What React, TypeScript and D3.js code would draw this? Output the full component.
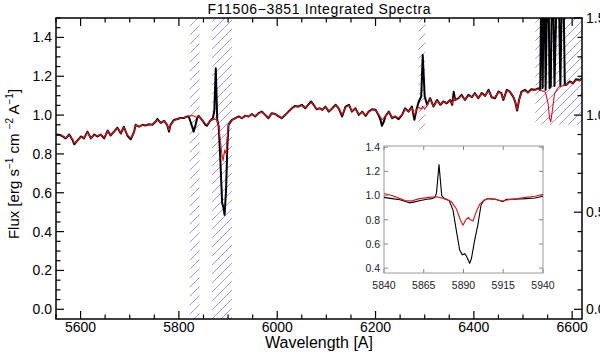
import React from 'react';
import * as d3 from 'd3';

// ---------- main spectrum ----------
const mainWave = [
  5550, 5560, 5570, 5577, 5584, 5587, 5594, 5601, 5607, 5614, 5621, 5628, 5634, 5641, 5648, 5655, 5661, 5668, 5675, 5682,
  5688, 5695, 5702, 5709, 5712, 5719, 5726, 5732, 5739, 5746, 5753, 5756, 5763, 5770, 5776, 5780, 5783, 5790, 5797, 5803,
  5810, 5817, 5820, 5823.5, 5827, 5830, 5834, 5837, 5840, 5847, 5854, 5857, 5864, 5869, 5872, 5875, 5878, 5881, 5884, 5888,
  5890, 5893, 5896, 5898.5, 5901, 5908, 5915, 5921.5, 5928, 5935, 5942, 5948.5, 5955, 5962, 5969, 5976, 5982, 5989, 5996, 6003,
  6009, 6016, 6023, 6030, 6036, 6043, 6050, 6057, 6063, 6069, 6074, 6080, 6087, 6092, 6098, 6105, 6112, 6119, 6125, 6132,
  6139, 6146, 6152, 6159, 6166, 6173, 6180, 6186, 6193, 6200, 6206, 6210, 6213, 6217, 6220, 6227, 6234, 6240, 6247, 6254,
  6260, 6267, 6274, 6279, 6284, 6288, 6293, 6296, 6300, 6305, 6311, 6318, 6325, 6332, 6338, 6345, 6352, 6356, 6359, 6362,
  6369, 6375, 6382, 6389, 6396, 6402, 6409, 6416, 6423, 6430, 6436, 6443, 6450, 6456, 6460, 6467, 6473, 6480, 6484, 6488,
  6492, 6497, 6504, 6510, 6517, 6524, 6531, 6535, 6538, 6540, 6543, 6546, 6551, 6554, 6556.5, 6560, 6564, 6571, 6576, 6581,
  6585, 6588, 6595, 6602, 6608, 6615, 6620,
];
const mainBlack = [
  0.900, 0.896, 0.880, 0.900, 0.870, 0.850, 0.870, 0.890, 0.880, 0.915, 0.880, 0.900, 0.890, 0.900, 0.880, 0.920, 0.895, 0.915, 0.935, 0.905,
  0.940, 0.895, 0.875, 0.915, 0.950, 0.940, 0.950, 0.946, 0.953, 0.950, 0.967, 0.980, 0.960, 0.970, 0.950, 0.915, 0.950, 0.975, 0.980, 0.985,
  0.985, 0.993, 0.993, 0.967, 0.941, 0.915, 0.950, 0.984, 0.996, 0.975, 0.950, 0.945, 0.972, 0.984, 1.020, 1.241, 0.975, 0.940, 0.787, 0.547,
  0.530, 0.487, 0.616, 0.838, 0.950, 0.975, 0.984, 0.993, 0.984, 0.996, 0.993, 1.006, 0.993, 1.010, 1.018, 1.000, 0.984, 1.010, 1.006, 0.993,
  0.984, 1.000, 1.018, 1.035, 1.047, 1.044, 1.053, 1.035, 1.053, 1.070, 1.053, 1.030, 1.035, 1.027, 1.044, 1.018, 1.035, 1.053, 1.035, 0.993,
  1.044, 1.053, 1.018, 1.035, 1.001, 1.018, 0.996, 1.018, 1.030, 1.027, 1.001, 0.976, 0.945, 0.967, 0.993, 1.018, 0.984, 0.993, 0.979, 1.001,
  1.035, 1.018, 1.044, 0.976, 1.035, 1.070, 1.096, 1.310, 1.096, 1.053, 1.087, 1.044, 1.078, 1.053, 1.070, 1.061, 1.078, 1.053, 1.120, 1.078,
  1.087, 1.104, 1.078, 1.104, 1.092, 1.113, 1.087, 1.113, 1.099, 1.130, 1.092, 1.087, 1.121, 1.113, 1.078, 1.130, 1.121, 1.095, 1.070, 1.023,
  1.078, 1.121, 1.130, 1.116, 1.133, 1.130, 1.138, 1.130, 1.900, 1.140, 1.900, 1.130, 1.900, 1.140, 1.150, 1.900, 1.150, 1.900, 1.150, 1.900,
  1.155, 1.155, 1.173, 1.164, 1.185, 1.178, 1.190,
];
const mainRed = [
  0.900, 0.898, 0.882, 0.898, 0.872, 0.855, 0.868, 0.888, 0.882, 0.912, 0.882, 0.898, 0.892, 0.900, 0.883, 0.918, 0.897, 0.913, 0.932, 0.907,
  0.938, 0.898, 0.882, 0.912, 0.948, 0.942, 0.948, 0.948, 0.950, 0.952, 0.965, 0.975, 0.962, 0.968, 0.952, 0.922, 0.948, 0.972, 0.980, 0.983,
  0.986, 0.992, 0.995, 0.996, 0.998, 0.995, 0.990, 0.990, 0.995, 0.975, 0.955, 0.950, 0.972, 0.978, 0.978, 0.978, 0.970, 0.940, 0.873, 0.787,
  0.765, 0.820, 0.800, 0.890, 0.950, 0.975, 0.982, 0.992, 0.985, 0.994, 0.993, 1.004, 0.995, 1.008, 1.016, 1.002, 0.986, 1.008, 1.005, 0.995,
  0.986, 1.000, 1.015, 1.033, 1.045, 1.042, 1.050, 1.037, 1.050, 1.066, 1.052, 1.032, 1.035, 1.028, 1.042, 1.020, 1.034, 1.050, 1.036, 1.000,
  1.040, 1.050, 1.020, 1.033, 1.004, 1.016, 1.000, 1.016, 1.028, 1.026, 1.005, 0.990, 0.975, 0.985, 0.995, 1.015, 0.988, 0.994, 0.985, 1.002,
  1.030, 1.018, 1.038, 1.000, 1.030, 1.040, 1.030, 1.045, 1.030, 1.050, 1.083, 1.046, 1.075, 1.055, 1.068, 1.062, 1.076, 1.058, 1.090, 1.078,
  1.086, 1.100, 1.080, 1.100, 1.093, 1.110, 1.089, 1.110, 1.100, 1.125, 1.094, 1.090, 1.118, 1.112, 1.082, 1.126, 1.120, 1.097, 1.073, 1.028,
  1.076, 1.118, 1.127, 1.117, 1.130, 1.128, 1.135, 1.130, 1.128, 1.122, 1.125, 1.115, 1.060, 0.985, 0.965, 1.030, 1.110, 1.140, 1.150, 1.150,
  1.155, 1.155, 1.170, 1.165, 1.180, 1.178, 1.188,
];

// ---------- inset (Na D / He I zoom) ----------
const insetWaveBlack = [
  5840, 5845, 5850, 5856, 5860, 5863, 5867, 5870, 5872, 5873, 5874.6, 5876.3, 5878, 5881, 5883.4, 5885.5, 5887.6, 5889.3,
  5890.8, 5891.8, 5893.9, 5895, 5897, 5899, 5901, 5902.7, 5905.4, 5910, 5912.7, 5914.8, 5917, 5922, 5929.5, 5935, 5940,
];
const insetBlack = [
  0.985, 0.975, 0.965, 0.940, 0.950, 0.960, 0.970, 0.975, 0.985, 1.020, 1.256, 1.000, 0.975, 0.960, 0.880, 0.710, 0.550, 0.510,
  0.520, 0.500, 0.440, 0.480, 0.630, 0.755, 0.920, 0.960, 0.975, 0.970, 0.960, 0.950, 0.970, 0.970, 0.975, 0.980, 0.995,
];
const insetWaveRed = [
  5840, 5845, 5850, 5854, 5857, 5862.5, 5868, 5873, 5878, 5882.4, 5885.5, 5888, 5889.7, 5891.4, 5893, 5894.3, 5896, 5898,
  5900.2, 5902.7, 5905.4, 5910, 5912.7, 5914.8, 5920, 5929.5, 5935, 5940,
];
const insetRed = [
  1.017, 1.000, 0.975, 0.956, 0.956, 0.975, 0.985, 0.990, 0.975, 0.950, 0.890, 0.800, 0.755, 0.800, 0.820, 0.800, 0.790, 0.865,
  0.930, 0.960, 0.975, 0.970, 0.960, 0.955, 0.970, 0.985, 0.995, 1.010,
];

// ---------- masked (hatched) wavelength bands ----------
const bandStart = [5822, 5867.5, 6287.5, 6525];
const bandEnd = [5842, 5908, 6301.5, 6620];
const bandLow = [-0.05, -0.05, 0.91, 0.95];
const bandHigh = [1.5, 1.5, 1.5, 1.5];

// ---------- ticks ----------
const xTickLabels = [5600, 5800, 6000, 6200, 6400, 6600];
const yLeftTickLabels = [0.0, 0.2, 0.4, 0.6, 0.8, 1.0, 1.2, 1.4];
const yRightTickLabels = [0.0, 0.5, 1.0, 1.5];
const insetXTickLabels = [5840, 5865, 5890, 5915, 5940];
const insetYTickLabels = [0.4, 0.6, 0.8, 1.0, 1.2, 1.4];

const TITLE = 'F11506\u22123851 Integrated Spectra';
const FONT = '"Liberation Sans", Arial, Helvetica, sans-serif';

export default function App() {
  const W = 600, H = 352;
  const L = 56, R = 582, T = 18, B = 319;
  const x = d3.scaleLinear().domain([5550, 6620]).range([L, R]);
  const y = d3.scaleLinear().domain([-0.05, 1.5]).range([B, T]);

  const xi = d3.scaleLinear().domain([5840, 5940]).range([384, 543]);
  const yi = d3.scaleLinear().domain([0.36, 1.41]).range([273, 146]);

  const mainLine = (vals: number[]) =>
    d3.line<number>().x((_, i) => x(mainWave[i])).y((v) => y(v))(vals) || '';
  const insetLine = (ws: number[], vals: number[]) =>
    d3.line<number>().x((_, i) => xi(ws[i])).y((v) => yi(v))(vals) || '';

  const xMinor = d3.range(5550, 6621, 50).filter((v) => v % 200 !== 0);
  const yLeftMinor = d3.range(0, 1.501, 0.05).map((v) => +v.toFixed(2)).filter((v) => Math.round(v * 100) % 20 !== 0);
  const yRightMinor = d3.range(0, 1.501, 0.1).map((v) => +v.toFixed(2)).filter((v) => Math.round(v * 100) % 50 !== 0);

  const MAJ = 8, MIN = 4.5;
  const hatch = '#6b6bd6';

  return (
    <svg width={W} height={H} style={{ position: 'absolute', left: 0, top: 0, background: '#fff' }} fontFamily={FONT}>
      <defs>
        <pattern id="hatch" patternUnits="userSpaceOnUse" width={9} height={9}>
          <path d="M-1,10 L10,-1 M-3,3 L3,-3 M6,12 L12,6" stroke={hatch} strokeWidth={0.85} opacity={0.8} />
        </pattern>
        <clipPath id="plotclip">
          <rect x={L} y={T} width={R - L} height={B - T} />
        </clipPath>
        <clipPath id="insetclip">
          <rect x={xi(5840)} y={yi(1.41)} width={xi(5940) - xi(5840)} height={yi(0.36) - yi(1.41)} />
        </clipPath>
      </defs>
      <rect x={0} y={0} width={W} height={H} fill="#fff" />

      {/* hatched bands */}
      <g clipPath="url(#plotclip)">
        {bandStart.map((s, i) => (
          <rect key={i} x={x(s)} y={y(bandHigh[i])} width={x(bandEnd[i]) - x(s)} height={y(bandLow[i]) - y(bandHigh[i])} fill="url(#hatch)" />
        ))}
      </g>

      {/* spectra */}
      <g clipPath="url(#plotclip)" fill="none" strokeLinejoin="round">
        <path d={mainLine(mainBlack)} stroke="#000" strokeWidth={2} />
        <path d={mainLine(mainRed)} stroke="#e0151b" strokeWidth={1.1} />
      </g>

      {/* title */}
      <text x={(L + R) / 2} y={13.5} textAnchor="middle" fontSize={14} textLength={223} lengthAdjust="spacing">{TITLE}</text>

      {/* axes frame */}
      <rect x={L} y={T} width={R - L} height={B - T} fill="none" stroke="#000" strokeWidth={1.5} />

      {/* bottom & top ticks */}
      {xTickLabels.map((v) => (
        <g key={'xt' + v}>
          <line x1={x(v)} x2={x(v)} y1={B} y2={B - MAJ} stroke="#000" strokeWidth={1.2} />
          <line x1={x(v)} x2={x(v)} y1={T} y2={T + MAJ} stroke="#000" strokeWidth={1.2} />
          <text x={x(v)} y={B + 13} textAnchor="middle" fontSize={14}>{v}</text>
        </g>
      ))}
      {xMinor.map((v) => (
        <g key={'xm' + v}>
          <line x1={x(v)} x2={x(v)} y1={B} y2={B - MIN} stroke="#000" strokeWidth={1.2} />
          <line x1={x(v)} x2={x(v)} y1={T} y2={T + MIN} stroke="#000" strokeWidth={1.2} />
        </g>
      ))}

      {/* left axis */}
      {yLeftTickLabels.map((v) => (
        <g key={'yl' + v}>
          <line x1={L} x2={L + MAJ} y1={y(v)} y2={y(v)} stroke="#000" strokeWidth={1.2} />
          <text x={L - 4} y={y(v)} dy="0.36em" textAnchor="end" fontSize={14}>{v.toFixed(1)}</text>
        </g>
      ))}
      {yLeftMinor.map((v) => (
        <line key={'ylm' + v} x1={L} x2={L + MIN} y1={y(v)} y2={y(v)} stroke="#000" strokeWidth={1.2} />
      ))}

      {/* right axis */}
      {yRightTickLabels.map((v) => (
        <g key={'yr' + v}>
          <line x1={R} x2={R - MAJ} y1={y(v)} y2={y(v)} stroke="#000" strokeWidth={1.2} />
          <text x={R + 4} y={y(v)} dy="0.36em" textAnchor="start" fontSize={14}>{v.toFixed(1)}</text>
        </g>
      ))}
      {yRightMinor.map((v) => (
        <line key={'yrm' + v} x1={R} x2={R - MIN} y1={y(v)} y2={y(v)} stroke="#000" strokeWidth={1.2} />
      ))}

      {/* axis titles */}
      <text x={(L + R) / 2} y={348} textAnchor="middle" fontSize={16}>Wavelength [A]</text>
      <text transform={`translate(19,164) rotate(-90)`} textAnchor="middle" fontSize={15}>
        Flux  [erg s<tspan fontSize={10} dy={-6}>{'\u22121'}</tspan>
        <tspan dy={6}> cm </tspan>
        <tspan fontSize={10} dy={-6}>{'\u22122'}</tspan>
        <tspan dy={6}> A</tspan>
        <tspan fontSize={10} dy={-6}>{'\u22121'}</tspan>
        <tspan dy={6}>]</tspan>
      </text>

      {/* inset */}
      <rect x={xi(5840)} y={yi(1.41)} width={xi(5940) - xi(5840)} height={yi(0.36) - yi(1.41)} fill="#fff" stroke="#9a9a9a" strokeWidth={1} />
      <g clipPath="url(#insetclip)" fill="none" strokeLinejoin="round">
        <path d={insetLine(insetWaveBlack, insetBlack)} stroke="#000" strokeWidth={1.1} />
        <path d={insetLine(insetWaveRed, insetRed)} stroke="#e0151b" strokeWidth={1.1} />
      </g>
      {insetXTickLabels.map((v) => (
        <g key={'ix' + v}>
          <line x1={xi(v)} x2={xi(v)} y1={yi(0.36)} y2={yi(0.36) - 4} stroke="#888" />
          <line x1={xi(v)} x2={xi(v)} y1={yi(1.41)} y2={yi(1.41) + 4} stroke="#888" />
          <text x={xi(v)} y={yi(0.36) + 16} textAnchor="middle" fontSize={10.5} fill="#222">{v}</text>
        </g>
      ))}
      {insetYTickLabels.map((v) => (
        <g key={'iy' + v}>
          <line x1={xi(5840)} x2={xi(5840) + 4} y1={yi(v)} y2={yi(v)} stroke="#888" />
          <line x1={xi(5940)} x2={xi(5940) - 4} y1={yi(v)} y2={yi(v)} stroke="#888" />
          <text x={xi(5840) - 4} y={yi(v)} dy="0.36em" textAnchor="end" fontSize={10.5} fill="#222">{v.toFixed(1)}</text>
        </g>
      ))}
    </svg>
  );
}
